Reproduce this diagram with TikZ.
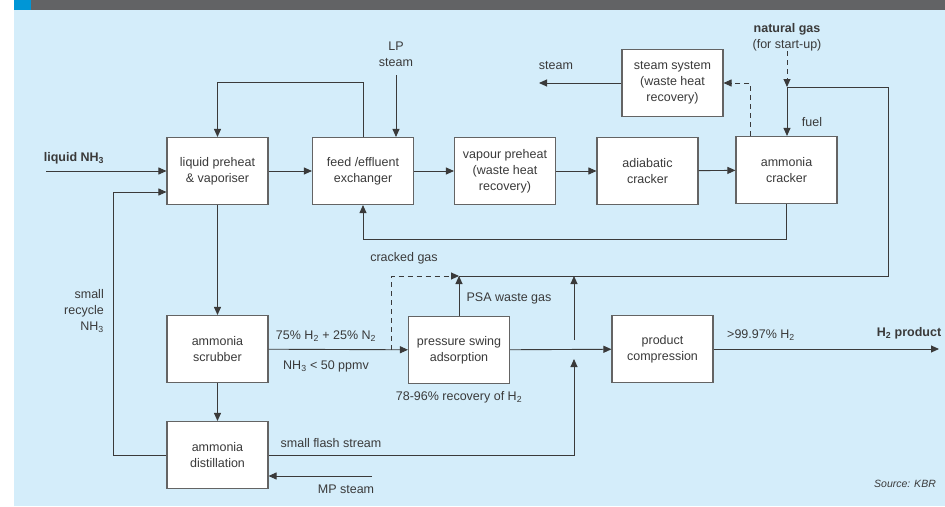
\documentclass[tikz,border=0pt]{standalone}
\usepackage{fontspec}
\setmainfont{Liberation Sans}
\usepackage{tikz}
\usetikzlibrary{arrows.meta,calc}
\definecolor{bgblue}{RGB}{212,237,250}
\definecolor{bargrey}{RGB}{98,99,101}
\definecolor{barblue}{RGB}{0,150,214}
\definecolor{ink}{RGB}{58,58,58}
\definecolor{boxline}{RGB}{100,100,100}
\tikzstyle{block}=[draw=boxline,line width=1.1pt,fill=white,minimum width=101pt,minimum height=67pt,inner sep=0pt,align=center,text=ink]
\tikzstyle{lbl}=[text=ink,inner sep=0pt,align=center]
\tikzstyle{line} = [draw=ink,line width=0.9pt,-]
\tikzstyle{flow} = [line,-{Triangle[length=8pt,width=7pt]}]
\tikzstyle{dashflow} = [flow,dash pattern=on 5pt off 4pt]

\begin{document}
\begin{tikzpicture}[x=1pt,y=-1pt,font=\fontsize{12.5}{16}\selectfont]
    % Background and title bar
    \useasboundingbox (0,0) rectangle (945,506);
    \fill[bgblue] (14,10) rectangle (945,506);
    \fill[bargrey] (14,0) rectangle (945,10);
    \fill[barblue] (14,0) rectangle (31,10);

    % First we draw the blocks
    \foreach \pos/\name/\txt in {{(217.5,171)/pre/{liquid preheat\\\& vaporiser}},
        {(363,171)/fe/{feed /effluent\\exchanger}},
        {(505,171)/vap/{vapour preheat\\(waste heat\\recovery)}},
        {(647.5,171)/adi/{adiabatic\\cracker}},
        {(786.5,170)/amc/{ammonia\\cracker}},
        {(672.5,83)/sts/{steam system\\(waste heat\\recovery)}},
        {(217.5,349)/scr/{ammonia\\scrubber}},
        {(217.5,455)/dis/{ammonia\\distillation}},
        {(459,350)/psa/{pressure swing\\adsorption}},
        {(662.5,349)/pc/{product\\compression}}}
        \node[block] (\name) at \pos {\txt};

    % Free ends of the streams
    \coordinate (nh3in) at (46,171);
    \coordinate (rec) at (113,192);
    \coordinate (lpin) at (396,75);
    \coordinate (stout) at (539,83);
    \coordinate (fj) at (787,87);
    \coordinate (gr) at (888,276);
    \coordinate (gj) at (459,276);
    \coordinate (cg) at (391,349.5);
    \coordinate (wu) at (574,340);
    \coordinate (wt) at (574,276);
    \coordinate (fl) at (574,359);
    \coordinate (mp) at (372,476);
    \coordinate (h2out) at (939,349);

    % Connect blocks with streams
    \foreach \source/ \dest in {pre/fe, fe/vap, vap/adi, adi/amc, pre/scr, scr/dis, scr/psa, psa/pc}
        \path[flow] (\source) -- (\dest);
    \path[flow] (nh3in) -- (pre.west);
    \path[flow] (dis.west) -| (rec) -- (rec -| pre.west);
    \path[flow] (fe.north) -- ++(0,-55) -| (pre.north);
    \path[flow] (lpin) -- (lpin |- fe.north);
    \path[flow] (sts.west) -- (stout);
    \path[flow] (fj) -- (fj |- amc.north);
    \path[line] (fj) -| (gr) -- (gj);
    \path[dashflow] ($(amc.north west)+(15,0)$) |- (sts.east);
    \path[flow] (amc.south) -- ++(0,35) -| (fe.south);
    \path[dashflow] (cg) |- (gj);
    \path[flow] (psa.north) -- (gj);
    \path[flow] (wu) -- (wt);
    \path[flow] (dis.east) -| (fl);
    \path[flow] (mp) -- (mp -| dis.east);
    \path[flow] (pc.east) -- (h2out);

    % Stream labels
    \node[lbl] (nh3) at (74,158) {\textbf{liquid NH\textsubscript{3}}};
    \node[lbl,anchor=east,align=right] (recl) at (104,311) {small\\recycle\\NH\textsubscript{3}};
    \node[lbl] (lp) at (396,54) {LP\\steam};
    \node[lbl] (st) at (556,66) {steam};
    \node[lbl] (ng) at (787,37) {\textbf{natural gas}\\(for start-up)};
    \path[dashflow] (ng.south) -- (fj);
    \node[lbl] (fuel) at (812,122) {fuel};
    \node[lbl] (cgl) at (404,258) {cracked gas};
    \node[lbl] (psaw) at (509,298) {PSA waste gas};
    \node[lbl] (mix) at (326,336) {75\% H\textsubscript{2} + 25\% N\textsubscript{2}};
    \node[lbl] (ppm) at (326,366) {NH\textsubscript{3} < 50 ppmv};
    \node[lbl] (recov) at (459,397) {78-96\% recovery of H\textsubscript{2}};
    \node[lbl] (pur) at (761,335) {>99.97\% H\textsubscript{2}};
    \node[lbl] (h2) at (909,333) {\textbf{H\textsubscript{2} product}};
    \node[lbl] (fls) at (331,443) {small flash stream};
    \node[lbl] (mps) at (346,489) {MP steam};
    \node[lbl,font=\fontsize{10.5}{12}\itshape] (src) at (905,484) {Source: KBR};
\end{tikzpicture}
\end{document}
